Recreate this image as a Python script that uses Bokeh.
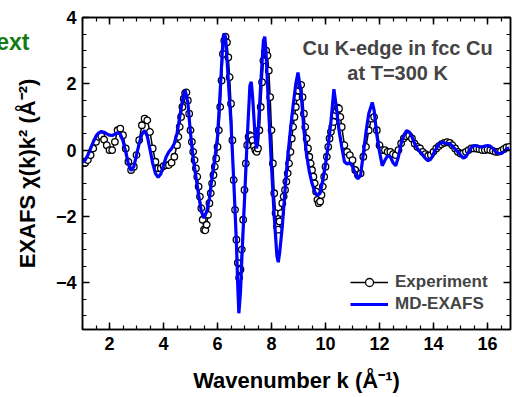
from bokeh.plotting import figure
from bokeh.models import (LinearAxis, Range1d, Label, Legend, LegendItem, FixedTicker,
                          SingleIntervalTicker, ColumnDataSource, CustomJSTickFormatter)
from bokeh.embed import file_html
from bokeh.resources import INLINE

# ---------------- data ----------------
k_exp = [1.0, 1.1, 1.2, 1.3, 1.4, 1.5, 1.6, 1.7, 1.8, 1.9,
         2.0, 2.1, 2.2, 2.3, 2.4, 2.5, 2.6, 2.7, 2.8, 2.9,
         3.0, 3.1, 3.2, 3.3, 3.4, 3.5, 3.6, 3.7, 3.8, 3.9,
         4.0, 4.1, 4.2, 4.3, 4.4,
         4.5, 4.55, 4.6, 4.65, 4.7, 4.75, 4.8, 4.85, 4.9, 4.95,
         5.0, 5.05, 5.1, 5.15, 5.2, 5.25, 5.3, 5.35, 5.4, 5.45,
         5.5, 5.55, 5.6, 5.65, 5.7, 5.75, 5.8, 5.85, 5.9, 5.95,
         6.0, 6.05, 6.1, 6.15, 6.2, 6.25, 6.3, 6.35, 6.4, 6.45,
         6.5, 6.55, 6.6, 6.65, 6.7, 6.75, 6.8, 6.85, 6.9, 6.95,
         7.0, 7.05, 7.1, 7.15, 7.2, 7.25, 7.3, 7.35, 7.4, 7.45,
         7.5, 7.55, 7.6, 7.65, 7.7, 7.75, 7.8, 7.85, 7.9, 7.95,
         8.0, 8.05, 8.1, 8.15, 8.2, 8.25, 8.3, 8.35, 8.4, 8.45,
         8.5, 8.55, 8.6, 8.65, 8.7, 8.75, 8.8, 8.85, 8.9, 8.95,
         9.0, 9.05, 9.1, 9.15, 9.2, 9.25, 9.3, 9.35, 9.4, 9.45,
         9.5, 9.55, 9.6, 9.65, 9.7, 9.75, 9.8, 9.85, 9.9, 9.95,
         10.0, 10.05, 10.1, 10.15, 10.2, 10.25, 10.3, 10.35, 10.4, 10.45,
         10.5, 10.55, 10.6,
         10.7, 10.8, 10.9,
         11.0, 11.1, 11.2, 11.3, 11.4, 11.5, 11.6, 11.7, 11.8, 11.9,
         12.0, 12.1, 12.2, 12.3, 12.4, 12.5, 12.6, 12.7, 12.8, 12.9,
         13.0, 13.1, 13.2, 13.3, 13.4, 13.5, 13.6, 13.7, 13.8, 13.9,
         14.0, 14.1, 14.2, 14.3, 14.4, 14.5, 14.6, 14.7, 14.8, 14.9,
         15.0, 15.1, 15.2, 15.3, 15.4, 15.5, 15.6, 15.7, 15.8, 15.9,
         16.0, 16.1, 16.2, 16.3, 16.4, 16.5, 16.6, 16.7, 16.8]
chi_exp = [-0.35, -0.38, -0.30, -0.15, 0.05, 0.25, 0.40, 0.42, 0.32, 0.15,
           0.00, 0.00, 0.25, 0.60, 0.65, 0.45, 0.05, -0.35, -0.60, -0.50,
           -0.15, 0.30, 0.75, 0.95, 0.90, 0.55, 0.05, -0.35, -0.55, -0.55,
           -0.48, -0.45, -0.45, -0.38, -0.20,
           0.15, 0.40, 0.70, 1.00, 1.30, 1.55, 1.72, 1.74, 1.50, 1.10,
           0.60, 0.25, -0.05, -0.30, -0.55, -0.80, -1.10, -1.40, -1.75, -2.10,
           -2.40, -2.42, -2.25, -1.95, -1.60, -1.30, -1.00, -0.75, -0.50, -0.25,
           0.10, 0.60, 1.30, 2.10, 2.90, 3.30, 3.42, 3.25, 2.80, 2.20,
           1.40, 0.30, -0.90, -1.80, -2.70, -3.40, -3.85, -3.60, -3.00, -2.10,
           -1.20, -0.40, 0.15, 0.40, 0.45, 0.42, 0.30, 0.12, 0.00, -0.05,
           0.05, 0.60, 1.30, 2.05, 2.70, 2.95, 3.00, 2.85, 2.40, 1.60,
           0.60, -0.40, -1.30, -1.90, -2.30, -2.40, -2.15, -1.90, -1.60, -1.40,
           -1.20, -0.95, -0.70, -0.40, -0.05, 0.35, 0.70, 1.00, 1.30, 1.60,
           1.80, 1.95, 1.97, 1.60, 1.10, 0.70, 0.35, 0.05, -0.20, -0.40,
           -0.60, -0.80, -1.00, -1.25, -1.50, -1.60, -1.55, -1.35, -1.10, -0.80,
           -0.50, -0.20, 0.10, 0.35, 0.55, 0.70, 0.85, 1.05, 1.20, 1.28,
           1.25, 1.00, 0.70,
           0.15, -0.05, -0.15,
           -0.30, -0.60, -0.75, -0.70, -0.20, 0.10, 0.60, 0.95, 1.00, 0.60,
           0.15, 0.00, 0.00, -0.05, -0.05, -0.12, -0.15, 0.00, 0.20, 0.35,
           0.42, 0.44, 0.35, 0.20, 0.10, 0.05, -0.05, -0.12, -0.17, -0.15,
           -0.05, 0.05, 0.12, 0.18, 0.22, 0.24, 0.22, 0.15, 0.05, -0.05,
           -0.10, -0.10, -0.05, 0.00, 0.05, 0.05, 0.05, 0.03, 0.00, 0.00,
           0.02, 0.00, -0.02, -0.05, -0.05, -0.02, 0.03, 0.08, 0.10]

k_md = [1.0, 1.1, 1.2, 1.3, 1.4, 1.5, 1.6, 1.7, 1.8, 1.9,
        2.0, 2.1, 2.2, 2.3, 2.4, 2.5, 2.6, 2.7, 2.8, 2.9,
        3.0, 3.1, 3.2, 3.3, 3.4, 3.5, 3.6, 3.7, 3.8, 3.9,
        4.0, 4.1, 4.2, 4.3, 4.4, 4.5, 4.6, 4.7, 4.8, 4.9,
        5.0, 5.1, 5.2, 5.3, 5.4, 5.5, 5.6, 5.7, 5.8, 5.9,
        6.0, 6.1, 6.2, 6.25, 6.3, 6.4, 6.5, 6.6, 6.7, 6.75, 6.79, 6.85, 6.9,
        7.0, 7.1, 7.2, 7.25, 7.3, 7.4, 7.45, 7.5, 7.6, 7.7, 7.75, 7.8, 7.9,
        8.0, 8.1, 8.2, 8.25, 8.3, 8.4, 8.5, 8.6, 8.7, 8.8, 8.9, 8.98,
        9.1, 9.2, 9.3, 9.4, 9.5, 9.6, 9.7, 9.8, 9.9,
        10.0, 10.1, 10.2, 10.31, 10.4, 10.5, 10.6, 10.7, 10.8, 10.9,
        11.0, 11.1, 11.2, 11.3, 11.4, 11.5, 11.6, 11.73, 11.8, 11.9,
        12.0, 12.1, 12.2, 12.3, 12.4, 12.5, 12.6, 12.7, 12.8, 12.9,
        13.0, 13.1, 13.2, 13.3, 13.4, 13.5, 13.6, 13.7, 13.8, 13.9,
        14.0, 14.1, 14.2, 14.3, 14.4, 14.5, 14.6, 14.7, 14.8, 14.9,
        15.0, 15.1, 15.2, 15.3, 15.4, 15.5, 15.6, 15.7, 15.8, 15.9,
        16.0, 16.1, 16.2, 16.3, 16.4, 16.5, 16.6, 16.7, 16.8]
chi_md = [-0.37, -0.30, -0.15, 0.05, 0.25, 0.42, 0.52, 0.56, 0.54, 0.49,
          0.45, 0.44, 0.48, 0.53, 0.48, 0.28, -0.05, -0.42, -0.62, -0.50,
          -0.15, 0.20, 0.48, 0.59, 0.42, 0.02, -0.40, -0.70, -0.82, -0.72,
          -0.45, -0.20, -0.05, 0.05, 0.20, 0.50, 1.00, 1.50, 1.81, 1.45,
          0.50, -0.25, -0.80, -1.35, -1.85, -2.05, -1.85, -1.45, -0.80, -0.25,
          0.40, 1.80, 3.30, 3.52, 3.40, 2.10, 0.80, -0.90, -2.80, -4.10, -4.92, -4.30, -3.30,
          -1.50, 0.35, 1.95, 2.06, 1.60, 0.30, 0.05, 0.50, 2.00, 3.30, 3.42, 2.90, 1.10,
          -0.50, -2.00, -3.20, -3.38, -3.10, -2.30, -1.20, -0.20, 0.60, 1.35, 2.00, 2.34,
          1.70, 0.60, -0.15, -0.65, -1.00, -1.25, -1.37, -1.30, -0.90,
          -0.42, 0.15, 0.85, 1.84, 1.30, 0.60, 0.10, -0.35, -0.42, -0.38,
          -0.50, -0.70, -0.87, -0.75, -0.10, 0.55, 1.10, 1.44, 1.20, 0.45,
          -0.05, -0.47, -0.30, -0.17, -0.20, -0.38, -0.47, -0.20, 0.20, 0.45,
          0.59, 0.55, 0.40, 0.20, 0.05, -0.05, -0.15, -0.25, -0.32, -0.27,
          -0.10, 0.05, 0.18, 0.24, 0.22, 0.20, 0.20, 0.12, 0.03, -0.05,
          -0.15, -0.24, -0.20, -0.05, 0.08, 0.14, 0.13, 0.10, 0.10, 0.12,
          0.14, 0.12, 0.05, -0.05, -0.10, -0.11, -0.05, 0.03, 0.07]

series_names = ["Experiment", "MD-EXAFS"]
title_lines = ["Cu K-edge in fcc Cu", "at T=300 K"]
x_title = "Wavenumber k (Å\u207b\u00b9)"
y_title = "EXAFS \u03c7(k)k\u00b2 (Å\u207b\u00b2)"
corner_text = "ext"
corner_at = [3.27]      # y value (left margin) where the cropped green text sits

assert len(k_exp) == len(chi_exp)
assert len(k_md) == len(chi_md)

FONT = "Liberation Sans"
BLUE = "#0000FF"
W, H = 512, 397

# ---------------- figure ----------------
p = figure(width=W, height=H,
           x_range=Range1d(1.0, 16.85), y_range=Range1d(-5.41, 4.0),
           output_backend="svg", toolbar_location=None,
           min_border_left=82, min_border_right=2,
           min_border_top=17, min_border_bottom=68)
p.background_fill_color = "white"
p.border_fill_color = "white"
p.grid.visible = False
p.outline_line_color = "black"
p.outline_line_width = 1.5

def style_axis(ax, labels=True):
    ax.axis_line_width = 1.5
    ax.axis_line_color = "black"
    ax.major_tick_in = 7
    ax.major_tick_out = 0
    ax.minor_tick_in = 4
    ax.minor_tick_out = 0
    ax.major_tick_line_width = 1.5
    ax.minor_tick_line_width = 1.2
    ax.major_tick_line_color = "black"
    ax.minor_tick_line_color = "black"
    if labels:
        ax.major_label_text_font = FONT
        ax.major_label_text_font_style = "bold"
        ax.major_label_text_font_size = "18px"
        ax.major_label_text_color = "black"
        ax.axis_label_text_font = FONT
        ax.axis_label_text_font_style = "bold"
        ax.axis_label_text_font_size = "22px"
        ax.axis_label_text_color = "black"
    else:
        ax.formatter = CustomJSTickFormatter(code="return ''")
        ax.major_label_standoff = 0

p.xaxis.ticker = SingleIntervalTicker(interval=2, num_minor_ticks=4)
p.yaxis.ticker = SingleIntervalTicker(interval=2, num_minor_ticks=4)
style_axis(p.xaxis[0])
style_axis(p.yaxis[0])
p.xaxis.major_label_standoff = 7
p.yaxis.major_label_standoff = 6
p.xaxis.axis_label = x_title
p.xaxis.axis_label_standoff = 15

top_ax = LinearAxis(ticker=SingleIntervalTicker(interval=2, num_minor_ticks=4))
right_ax = LinearAxis(ticker=SingleIntervalTicker(interval=2, num_minor_ticks=4))
style_axis(top_ax, labels=False)
style_axis(right_ax, labels=False)
p.add_layout(top_ax, "above")
p.add_layout(right_ax, "right")

# outer left axis: carries the cropped green corner text and the y title
# (annotations inside the plot are clipped to the frame)
outer = LinearAxis(ticker=FixedTicker(ticks=corner_at, minor_ticks=[]),
                   formatter=CustomJSTickFormatter(code="return '%s'" % corner_text))
outer.axis_line_color = None
outer.major_tick_line_color = None
outer.minor_tick_line_color = None
outer.major_tick_in = 0
outer.major_tick_out = 0
outer.major_label_standoff = 23
outer.major_label_text_font = FONT
outer.major_label_text_font_style = "bold"
outer.major_label_text_font_size = "23px"
outer.major_label_text_color = "#137a13"
outer.axis_label = y_title
outer.axis_label_standoff = -47
outer.axis_label_text_font = FONT
outer.axis_label_text_font_style = "bold"
outer.axis_label_text_font_size = "22px"
outer.axis_label_text_color = "black"
p.add_layout(outer, "left")

# ---------------- series ----------------
src_exp = ColumnDataSource(dict(k=k_exp, chi=chi_exp))
src_md = ColumnDataSource(dict(k=k_md, chi=chi_md))

r_exp_line = p.line("k", "chi", source=src_exp, line_color="black", line_width=1.5)
r_exp_pts = p.scatter("k", "chi", source=src_exp, marker="circle", size=6.5,
                      line_color="black", line_width=1.3, fill_color="white")
r_md = p.line("k", "chi", source=src_md, line_color=BLUE, line_width=3.2)

legend = Legend(items=[LegendItem(label=series_names[0], renderers=[r_exp_line, r_exp_pts]),
                       LegendItem(label=series_names[1], renderers=[r_md])],
                location=(268, 15))
legend.background_fill_alpha = 0
legend.border_line_color = None
legend.padding = 0
legend.margin = 0
legend.spacing = 2
legend.glyph_width = 38
legend.glyph_height = 20
legend.label_height = 20
legend.label_standoff = 7
legend.label_text_font = FONT
legend.label_text_font_style = "bold"
legend.label_text_font_size = "17px"
p.add_layout(legend, "center")

# ---------------- texts ----------------
p.add_layout(Label(x=12.67, y=3.09, text=title_lines[0], text_font=FONT,
                   text_font_style="bold", text_font_size="20px",
                   text_align="center", text_baseline="middle"))
p.add_layout(Label(x=12.67, y=2.33, text=title_lines[1], text_font=FONT,
                   text_font_style="bold", text_font_size="20px",
                   text_align="center", text_baseline="middle"))

open("out.html", "w").write(file_html(p, INLINE))
